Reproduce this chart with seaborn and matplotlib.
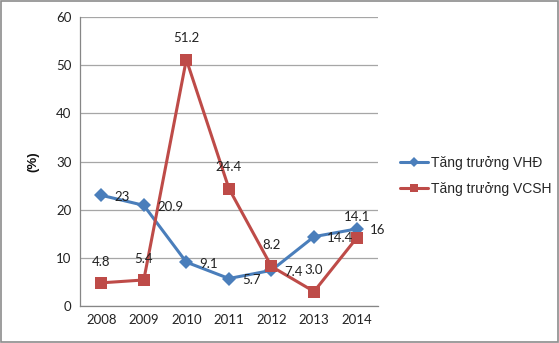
import matplotlib
matplotlib.use("Agg")
import matplotlib.pyplot as plt
import seaborn as sns
import pandas as pd
from matplotlib.patches import Rectangle
from matplotlib.lines import Line2D

years = ["2008", "2009", "2010", "2011", "2012", "2013", "2014"]
vhd = [23, 20.9, 9.1, 5.7, 7.4, 14.4, 16]
vcsh = [4.8, 5.4, 51.2, 24.4, 8.2, 3.0, 14.1]
vhd_labels = ["23", "20.9", "9.1", "5.7", "7.4", "14.4", "16"]
vcsh_labels = ["4.8", "5.4", "51.2", "24.4", "8.2", "3.0", "14.1"]
name_vhd = "Tăng trưởng VHĐ"
name_vcsh = "Tăng trưởng VCSH"

df = pd.DataFrame({
    "year": list(range(len(years))) * 2,
    "value": vhd + vcsh,
    "series": [name_vhd] * len(years) + [name_vcsh] * len(years),
})

sns.set_theme(style="white")
plt.rcParams["font.family"] = ["Lato", "DejaVu Sans"]

fig = plt.figure(figsize=(5.59, 3.43), dpi=100)
ax = fig.add_axes([0.143, 0.108, 0.533, 0.842])

blue = "#4A7EBB"
red = "#BE4B48"
sns.lineplot(data=df, x="year", y="value", hue="series", style="series",
             markers={name_vhd: "D", name_vcsh: "s"}, dashes=False,
             palette={name_vhd: blue, name_vcsh: red}, linewidth=2.2,
             markersize=7, markeredgewidth=0, ax=ax, legend=False)
for line in ax.lines:
    if matplotlib.colors.to_hex(line.get_color()).lower() == red.lower():
        line.set_markersize(8.5)

ax.set_xlim(-0.5, 6.5)
ax.set_ylim(0, 60)
ax.set_yticks(range(0, 61, 10))
ax.set_xticks(range(len(years)))
ax.set_xticklabels(years)
ax.yaxis.grid(True, color="#A6A6A6", linewidth=0.9)
ax.set_axisbelow(True)
for s in ["top", "right"]:
    ax.spines[s].set_visible(False)
for s in ["left", "bottom"]:
    ax.spines[s].set_color("#868686")
    ax.spines[s].set_linewidth(0.9)
ax.tick_params(axis="both", length=0, labelsize=9.5, colors="#222222", pad=6)
ax.set_xlabel("")
ax.set_ylabel("(%)", fontsize=9.5, fontweight="heavy", labelpad=12, color="#111111",
              family=["Liberation Sans", "DejaVu Sans"])

for i, (v, t) in enumerate(zip(vhd, vhd_labels)):
    ax.annotate(t, (i, v), xytext=(9.5, -1), textcoords="offset points",
                ha="left", va="center", fontsize=9.5, color="#222222")
for i, (v, t) in enumerate(zip(vcsh, vcsh_labels)):
    ax.annotate(t, (i, v), xytext=(0, 11), textcoords="offset points",
                ha="center", va="bottom", fontsize=9.5, color="#222222")

handles = [Line2D([], [], color=blue, marker="D", markersize=5, linewidth=2.2, markeredgewidth=0),
           Line2D([], [], color=red, marker="s", markersize=6, linewidth=2.2, markeredgewidth=0)]
fig.legend(handles, [name_vhd, name_vcsh], loc="center left",
           bbox_to_anchor=(0.693, 0.488), frameon=False, handlelength=2.0,
           handletextpad=0.25, labelspacing=0.85,
           prop={"family": ["Liberation Sans", "DejaVu Sans"], "size": 10})

fig.patches.append(Rectangle((0.001, 0.002), 0.997, 0.995, transform=fig.transFigure,
                             fill=False, edgecolor="#8C8C8C", linewidth=1.2))

fig.savefig("out.png", dpi=100)
